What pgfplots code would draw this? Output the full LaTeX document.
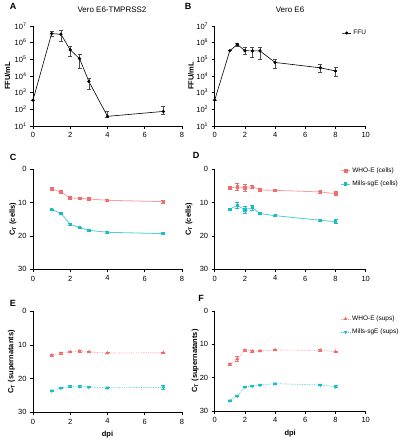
\documentclass[border=0pt]{standalone}
\usepackage{pgfplots}
\pgfplotsset{compat=1.18}
\usepackage{fontspec}
\setmainfont{Liberation Sans}
\definecolor{whored}{RGB}{242,108,108}
\definecolor{millscy}{RGB}{25,190,196}
\pgfplotsset{
  prism/.style={
    scale only axis, anchor=south west, clip=false,
    axis x line=bottom, axis y line=left,
    axis line style={line width=0.9pt,-},
    x axis line style={-}, y axis line style={-},
    tick style={line width=0.8pt,black},
    tick align=outside, major tick length=3pt,
    ticklabel style={font=\fontsize{7.5}{8.5}\selectfont},
    /pgf/number format/assume math mode=true,
    label style={font=\bfseries\fontsize{7.5}{9}\selectfont},
    legend style={draw=none, fill=none, font=\fontsize{6.5}{7.5}\selectfont, inner sep=0pt, row sep=3pt},
    legend cell align=left,
    legend image code/.code={\draw[mark repeat=2,mark phase=2,##1] plot coordinates {(0cm,0cm) (0.15cm,0cm) (0.3cm,0cm)};},
  },
  ffu/.style={black, line width=0.6pt, mark=*, mark size=1.3pt,
    error bars/.cd, y dir=both, y explicit,
    error bar style={line width=0.5pt, black!70},
    error mark options={rotate=90, mark size=2pt, line width=0.5pt, black!70}},
  ctaxis/.style={prism, y dir=reverse, ymin=0, ymax=30, ytick={0,10,20,30}, xmin=0},
  whoc/.style={color=whored!65, line width=0.8pt, mark=square*, mark size=1.4pt,
    mark options={whored, solid},
    error bars/.cd, y dir=both, y explicit,
    error bar style={whored, line width=0.5pt, solid},
    error mark options={rotate=90, mark size=2pt, whored, line width=0.5pt}},
  millsc/.style={color=millscy!75, line width=0.8pt, mark=square*, mark size=1.2pt,
    mark options={millscy, solid},
    error bars/.cd, y dir=both, y explicit,
    error bar style={millscy, line width=0.5pt, solid},
    error mark options={rotate=90, mark size=2pt, millscy, line width=0.5pt}},
  whos/.style={color=whored!70, line width=0.7pt, densely dotted, mark=triangle*, mark size=1.5pt,
    mark options={whored, solid},
    error bars/.cd, y dir=both, y explicit,
    error bar style={whored, line width=0.5pt, solid},
    error mark options={rotate=90, mark size=2pt, whored, line width=0.5pt}},
  millss/.style={color=millscy!80, line width=0.7pt, densely dotted, mark=triangle*, mark size=1.5pt,
    mark options={millscy, solid, rotate=180},
    error bars/.cd, y dir=both, y explicit,
    error bar style={millscy, line width=0.5pt, solid},
    error mark options={rotate=90, mark size=2pt, millscy, line width=0.5pt}},
}
\begin{document}
\begin{tikzpicture}
\useasboundingbox (0pt,0pt) rectangle (403pt,440pt);
% titles and panel letters
\node[font=\fontsize{8}{9}\selectfont] at (112pt,430pt) {Vero E6-TMPRSS2};
\node[font=\fontsize{8}{9}\selectfont] at (290pt,430pt) {Vero E6};
\begin{scope}[every node/.style={font=\bfseries\fontsize{9}{10}\selectfont}]
\node at (13pt,434pt) {A};
\node at (188pt,434pt) {B};
\node at (13pt,283pt) {C};
\node at (196pt,285pt) {D};
\node at (13pt,137pt) {E};
\node at (201pt,142pt) {F};
\end{scope}

% Panel A
\begin{axis}[prism, at={(33pt,314pt)}, width=149pt, height=100pt,
  xmin=0, xmax=8, xtick={0,2,4,6,8},
  ymode=log, ymin=10, ymax=1e7, yminorticks=false,
  ytick={1e1,1e2,1e3,1e4,1e5,1e6,1e7},
  yticklabels={10\textsuperscript{1},10\textsuperscript{2},10\textsuperscript{3},10\textsuperscript{4},10\textsuperscript{5},10\textsuperscript{6},10\textsuperscript{7}},
  ylabel={FFU/mL}, ylabel style={at={(axis description cs:-0.171,0.5)}, anchor=center}]
\addplot[ffu] coordinates {
  (0,360) +=(0,0) -=(0,0)
  (1,3.5e6) +=(0,1.1e6) -=(0,0.9e6)
  (1.5,3.2e6) +=(0,2.0e6) -=(0,2.05e6)
  (2,3.7e5) +=(0,2.1e5) -=(0,2.2e5)
  (2.5,1.1e5) +=(0,0.9e5) -=(0,0.8e5)
  (3,4.7e3) +=(0,2.4e3) -=(0,3.2e3)
  (4,38) +=(0,37) -=(0,3)
  (7,75) +=(0,75) -=(0,27)
};
\end{axis}

% Panel B
\begin{axis}[prism, at={(214.7pt,314pt)}, width=151pt, height=100pt,
  xmin=0, xmax=10, xtick={0,2,4,6,8,10},
  ymode=log, ymin=10, ymax=1e7, yminorticks=false,
  ytick={1e1,1e2,1e3,1e4,1e5,1e6,1e7},
  yticklabels={10\textsuperscript{1},10\textsuperscript{2},10\textsuperscript{3},10\textsuperscript{4},10\textsuperscript{5},10\textsuperscript{6},10\textsuperscript{7}},
  ylabel={FFU/mL}, ylabel style={at={(axis description cs:-0.157,0.5)}, anchor=center},
  legend style={at={(0.843,0.93)}, anchor=west}]
\addplot[ffu] coordinates {
  (0,360) +=(0,0) -=(0,0)
  (1,3.3e5) +=(0,0) -=(0,0)
  (1.5,7.8e5) +=(0,1.5e5) -=(0,1.9e5)
  (2,3.3e5) +=(0,1.8e5) -=(0,1.2e5)
  (2.5,3.2e5) +=(0,1.9e5) -=(0,1.9e5)
  (3,3.2e5) +=(0,1.9e5) -=(0,2.15e5)
  (4,6.5e4) +=(0,4.0e4) -=(0,3.5e4)
  (7,3.1e4) +=(0,1.8e4) -=(0,1.5e4)
  (8,2.0e4) +=(0,1.4e4) -=(0,1.0e4)
};
\addlegendentry{FFU}
\end{axis}

% Panel C
\begin{axis}[ctaxis, at={(33pt,170.7pt)}, width=149pt, height=100pt,
  xmax=8, xtick={0,2,4,6,8},
  ylabel={C\textsubscript{T} (cells)}, ylabel style={at={(axis description cs:-0.134,0.5)}, anchor=center}]
\addplot[whoc] coordinates {
  (1,5.9) +-(0,0.2) (1.5,6.8) +-(0,0.2) (2,8.6) +-(0,0.2) (2.5,8.7) +-(0,0.2)
  (3,8.9) +-(0,0.2) (4,9.3) +-(0,0.2) (7,9.7) +-(0,0.5)
};
\addplot[millsc] coordinates {
  (1,12.1) +-(0,0.2) (1.5,13.2) +-(0,0.2) (2,16.5) +-(0,0.3) (2.5,17.5) +-(0,0.2)
  (3,18.3) +-(0,0.2) (4,18.9) +-(0,0.2) (7,19.3) +-(0,0.3)
};
\end{axis}

% Panel D
\begin{axis}[ctaxis, at={(214.7pt,170.7pt)}, width=151pt, height=100pt,
  xmax=10, xtick={0,2,4,6,8,10},
  ylabel={C\textsubscript{T} (cells)}, ylabel style={at={(axis description cs:-0.17,0.5)}, anchor=center},
  legend style={at={(0.835,0.92)}, anchor=west}]
\addplot[whoc] coordinates {
  (1,5.6) +-(0,0.2) (1.5,5.3) +-(0,1.0) (2,5.5) +-(0,1.1) (2.5,5.2) +-(0,0.4)
  (3,6.2) +-(0,0.2) (4,6.3) +-(0,0.2) (7,6.8) +-(0,0.3) (8,7.3) +-(0,0.6)
};
\addlegendentry{WHO-E (cells)}
\addplot[millsc] coordinates {
  (1,12.0) +-(0,0.2) (1.5,10.8) +-(0,1.0) (2,12.2) +-(0,1.1) (2.5,11.5) +-(0,0.8)
  (3,13.3) +-(0,0.2) (4,13.9) +-(0,0.2) (7,15.3) +-(0,0.2) (8,15.7) +-(0,0.6)
};
\addlegendentry{Mills-sgE (cells)}
\end{axis}

% Panel E
\begin{axis}[ctaxis, at={(33pt,27.7pt)}, width=149pt, height=101pt,
  xmax=8, xtick={0,2,4,6,8},
  xlabel={dpi}, xlabel style={at={(axis description cs:0.5,-0.225)}, anchor=center},
  ylabel={C\textsubscript{T} (supernatants)}, ylabel style={at={(axis description cs:-0.144,0.5)}, anchor=center}]
\addplot[whos] coordinates {
  (1,13.1) +-(0,0.2) (1.5,12.5) +-(0,0.2) (2,12.1) +-(0,0.2) (2.5,11.9) +-(0,0.2)
  (3,12.1) +-(0,0.2) (4,12.4) +-(0,0.2) (7,12.3) +-(0,0.2)
};
\addplot[millss] coordinates {
  (1,23.6) +-(0,0.2) (1.5,22.8) +-(0,0.2) (2,22.3) +-(0,0.2) (2.5,22.3) +-(0,0.2)
  (3,22.5) +-(0,0.2) (4,22.7) +-(0,0.2) (7,22.6) +-(0,0.6)
};
\end{axis}

% Panel F
\begin{axis}[ctaxis, at={(214.7pt,29pt)}, width=151pt, height=100pt,
  xmax=10, xtick={0,2,4,6,8,10},
  xlabel={dpi}, xlabel style={at={(axis description cs:0.5,-0.23)}, anchor=center},
  ylabel={C\textsubscript{T} (supernatants)}, ylabel style={at={(axis description cs:-0.13,0.5)}, anchor=center},
  legend style={at={(0.835,0.855)}, anchor=west}]
\addplot[whos] coordinates {
  (1,16.0) +-(0,0.2) (1.5,14.3) +-(0,0.7) (2,11.8) +-(0,0.2) (2.5,12.1) +-(0,0.2)
  (3,12.0) +-(0,0.2) (4,11.7) +-(0,0.2) (7,11.8) +-(0,0.2) (8,12.2) +-(0,0.2)
};
\addlegendentry{WHO-E (sups)}
\addplot[millss] coordinates {
  (1,26.9) +-(0,0.2) (1.5,25.5) +-(0,0.2) (2,22.8) +-(0,0.2) (2.5,22.5) +-(0,0.2)
  (3,22.2) +-(0,0.2) (4,21.8) +-(0,0.2) (7,22.2) +-(0,0.2) (8,22.7) +-(0,0.3)
};
\addlegendentry{Mills-sgE (sups)}
\end{axis}
\end{tikzpicture}
\end{document}
